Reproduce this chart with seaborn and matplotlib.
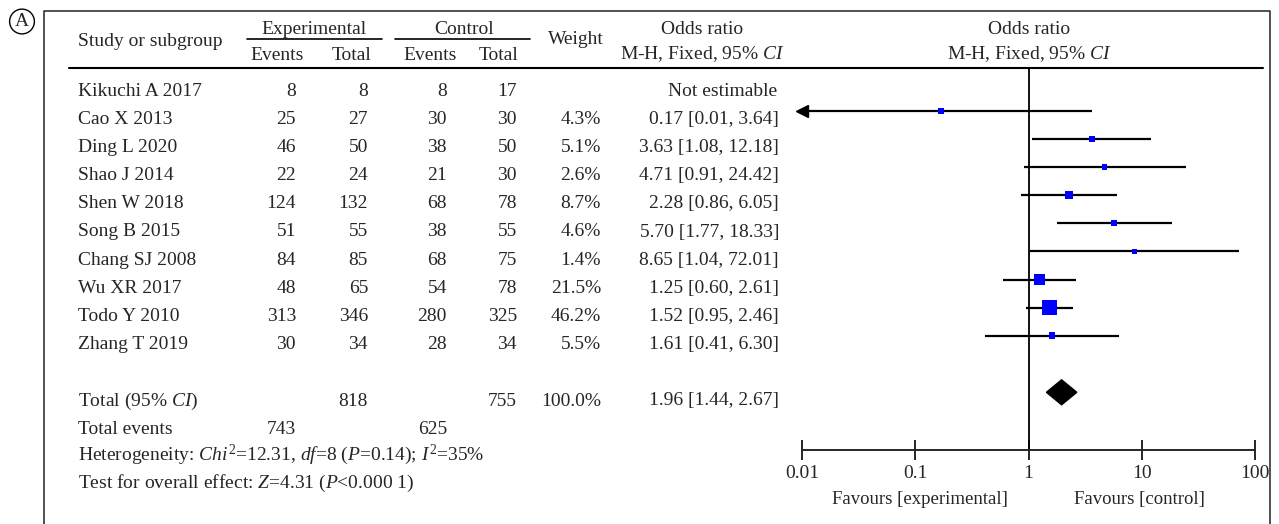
import seaborn as sns
import matplotlib.pyplot as plt
import numpy as np
import pandas as pd

sns.set_style("white")
plt.rcParams["font.family"] = ["Liberation Serif", "DejaVu Serif"]
plt.rcParams["mathtext.fontset"] = "custom"
plt.rcParams["mathtext.rm"] = "Liberation Serif"
plt.rcParams["mathtext.it"] = "Liberation Serif:italic"

# ---- data ----
studies = ["Kikuchi A 2017", "Cao X 2013", "Ding L 2020", "Shao J 2014", "Shen W 2018",
           "Song B 2015", "Chang SJ 2008", "Wu XR 2017", "Todo Y 2010", "Zhang T 2019"]
exp_events = [8, 25, 46, 22, 124, 51, 84, 48, 313, 30]
exp_total = [8, 27, 50, 24, 132, 55, 85, 65, 346, 34]
ctl_events = [8, 30, 38, 21, 68, 38, 68, 54, 280, 28]
ctl_total = [17, 30, 50, 30, 78, 55, 75, 78, 325, 34]
weights = [np.nan, 4.3, 5.1, 2.6, 8.7, 4.6, 1.4, 21.5, 46.2, 5.5]
odds = [np.nan, 0.17, 3.63, 4.71, 2.28, 5.70, 8.65, 1.25, 1.52, 1.61]
ci_low = [np.nan, 0.01, 1.08, 0.91, 0.86, 1.77, 1.04, 0.60, 0.95, 0.41]
ci_high = [np.nan, 3.64, 12.18, 24.42, 6.05, 18.33, 72.01, 2.61, 2.46, 6.30]

total_exp, total_ctl = 818, 755
events_exp, events_ctl = 743, 625
total_weight = 100.0
total_or, total_low, total_high = 1.96, 1.44, 2.67

axis_ticks = [0.01, 0.1, 1, 10, 100]
axis_labels = ["0.01", "0.1", "1", "10", "100"]

df = pd.DataFrame({"study": studies, "w": weights, "or": odds, "lo": ci_low, "hi": ci_high})

# ---- layout (pixel units) ----
W, H = 1279, 524
row0, dy = 96, 28.1          # text baseline of first row
shift = 13.2                 # forest marks sit a bit above text baseline
fs = 14

fig = plt.figure(figsize=(W / 100, H / 100), dpi=100)
ax = fig.add_axes([0, 0, 1, 1])
ax.set_xlim(0, W)
ax.set_ylim(H, 0)
ax.axis("off")

# frame and header rules
ax.plot([44, 44, 1270, 1270], [H, 11, 11, H], color="#333333", lw=1.2)
ax.plot([69, 1263], [68, 68], color="black", lw=1.5)
ax.plot([247, 382], [39, 39], color="black", lw=1.2)
ax.plot([395, 530], [39, 39], color="black", lw=1.2)
ax.text(22, 21.5, "A", ha="center", va="center", fontsize=14,
        bbox=dict(boxstyle="circle,pad=0.2", fc="none", ec="black", lw=1))

# headers
hb1, hb2, hbm = 33.5, 59.5, 46
ax.text(78, hbm, "Study or subgroup", fontsize=fs, va="baseline")
ax.text(314, hb1, "Experimental", fontsize=fs, ha="center", va="baseline")
ax.text(277, hb2, "Events", fontsize=fs, ha="center", va="baseline")
ax.text(352, hb2, "Total", fontsize=fs, ha="center", va="baseline")
ax.text(464, hb1, "Control", fontsize=fs, ha="center", va="baseline")
ax.text(430, hb2, "Events", fontsize=fs, ha="center", va="baseline")
ax.text(499, hb2, "Total", fontsize=fs, ha="center", va="baseline")
ax.text(576, hb2 - 16, "Weight", fontsize=fs, ha="center", va="baseline")
for cx in (702, 1029):
    ax.text(cx, hb1, "Odds ratio", fontsize=fs, ha="center", va="baseline")
    ax.text(cx, hb2, "M-H, Fixed, 95% $CI$", fontsize=fs, ha="center", va="baseline")

# study rows
cols = [296, 368, 447, 517, 601, 779]
for i, name in enumerate(studies):
    y = row0 + i * dy
    ax.text(78, y, name, fontsize=fs, va="baseline")
    vals = [exp_events[i], exp_total[i], ctl_events[i], ctl_total[i]]
    for cx, v in zip(cols[:4], vals):
        ax.text(cx, y, str(v), fontsize=fs, ha="right", va="baseline")
    if np.isnan(odds[i]):
        ax.text(777, y, "Not estimable", fontsize=fs, ha="right", va="baseline")
    else:
        ax.text(cols[4], y, f"{weights[i]:.1f}%", fontsize=fs, ha="right", va="baseline")
        ax.text(cols[5], y, f"{odds[i]:.2f} [{ci_low[i]:.2f}, {ci_high[i]:.2f}]",
                fontsize=fs, ha="right", va="baseline")

# totals
yt = 405.5
ax.text(78, yt, "Total (95% $CI$)", fontsize=fs, va="baseline")
ax.text(cols[1], yt, str(total_exp), fontsize=fs, ha="right", va="baseline")
ax.text(cols[3], yt, str(total_ctl), fontsize=fs, ha="right", va="baseline")
ax.text(cols[4], yt, f"{total_weight:.1f}%", fontsize=fs, ha="right", va="baseline")
ax.text(cols[5], yt, f"{total_or:.2f} [{total_low:.2f}, {total_high:.2f}]",
        fontsize=fs, ha="right", va="baseline")
ax.text(78, yt + 28, "Total events", fontsize=fs, va="baseline")
ax.text(cols[0], yt + 28, str(events_exp), fontsize=fs, ha="right", va="baseline")
ax.text(cols[2], yt + 28, str(events_ctl), fontsize=fs, ha="right", va="baseline")
ax.text(78, yt + 55, "Heterogeneity: $Chi^2$=12.31, $df$=8 ($P$=0.14); $I^2$=35%",
        fontsize=fs, va="baseline")
ax.text(78, yt + 82, "Test for overall effect: $Z$=4.31 ($P$<0.000 1)",
        fontsize=fs, va="baseline")

# ---- forest plot ----
x0, x1, ytop, ybot = 802, 1255, 68, 450
fax = fig.add_axes([x0 / W, 1 - ybot / H, (x1 - x0) / W, (ybot - ytop) / H])
fax.set_xscale("log")
fax.set_xlim(0.01, 100)
fax.set_ylim(ybot, ytop)
fax.patch.set_alpha(0)

df["y"] = row0 - shift + np.arange(len(df)) * dy
est = df.dropna()
fax.hlines(est["y"], est["lo"], est["hi"], color="black", lw=1.6)
clipped = est[est["lo"] <= 0.01]
fax.plot(clipped["lo"], clipped["y"], marker="<", color="black", ms=8, ls="none", clip_on=False)
sns.scatterplot(data=est, x="or", y="y", size="w", sizes=(12, 115), size_norm=(1.4, 46.2),
                marker="s", color="blue", linewidth=0, legend=False, ax=fax, zorder=3)
fax.axvline(1, color="black", lw=1.3)

yd = yt - shift
fax.fill([total_low, total_or, total_high, total_or], [yd, yd - 12.5, yd, yd + 12.5],
         color="black", zorder=3)

for side in ("left", "right", "top"):
    fax.spines[side].set_visible(False)
fax.spines["bottom"].set_linewidth(1.4)
fax.set_xticks(axis_ticks)
fax.set_xticklabels(axis_labels)
fax.minorticks_off()
fax.tick_params(axis="x", bottom=True, direction="inout", length=14, width=1.4,
                labelsize=fs, pad=4)
fax.set_yticks([])
fax.set_xlabel("")
fax.set_ylabel("")

ax.text(920, 504, "Favours [experimental]", fontsize=fs - 0.5, ha="center", va="baseline")
ax.text(1139, 504, "Favours [control]", fontsize=fs - 0.5, ha="center", va="baseline")

fig.savefig("out.png", dpi=100)
